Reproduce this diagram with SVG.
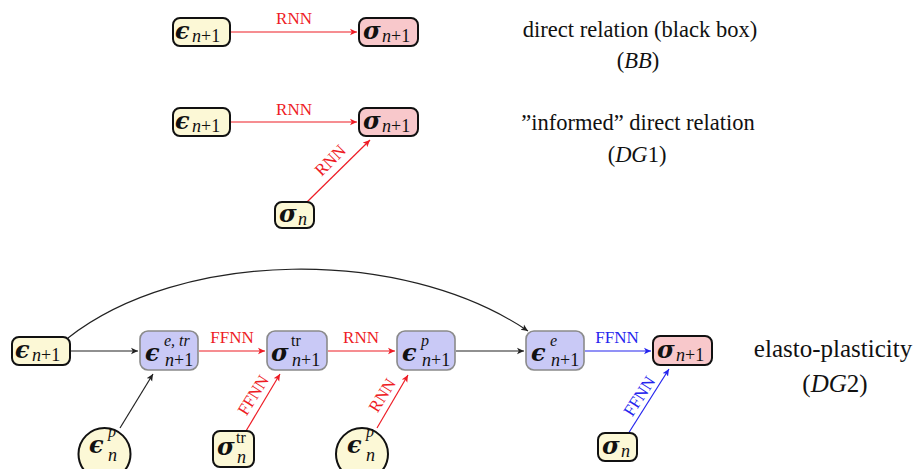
<svg xmlns="http://www.w3.org/2000/svg" width="918" height="469" viewBox="0 0 918 469">
<style>
text{font-family:"Liberation Serif","DejaVu Serif",serif;fill:#111}
.g{font-family:"DejaVu Serif","Liberation Serif",serif;font-weight:bold;font-style:italic;font-size:24px}
.s{font-size:18px}
.t{font-size:16px}
.i{font-style:italic}
.in{fill:#fcf8d6;stroke:#111;stroke-width:2}
.out{fill:#f8c8cb;stroke:#111;stroke-width:2}
.mid{fill:#c9c9f6;stroke:#8a8a8a;stroke-width:1.6}
.lab{font-size:17px}
.r{fill:#ee1c25}
.b{fill:#2525ee}
.desc{font-size:22.5px;text-anchor:middle}
.desc2{font-size:25px;text-anchor:middle}
.ck{stroke:#222;stroke-width:1.2;fill:none}
.cr{stroke:#ee1c25;stroke-width:1.2;fill:none}
.cb{stroke:#2525ee;stroke-width:1.2;fill:none}
</style>
<defs>
<marker id="ak" markerWidth="8" markerHeight="8" refX="7" refY="4" orient="auto" markerUnits="userSpaceOnUse"><path d="M0,0.8 L7,4 L0,7.2 L1.8,4 Z" fill="#222"/></marker>
<marker id="ar" markerWidth="8" markerHeight="8" refX="7" refY="4" orient="auto" markerUnits="userSpaceOnUse"><path d="M0,0.8 L7,4 L0,7.2 L1.8,4 Z" fill="#ee1c25"/></marker>
<marker id="ab" markerWidth="8" markerHeight="8" refX="7" refY="4" orient="auto" markerUnits="userSpaceOnUse"><path d="M0,0.8 L7,4 L0,7.2 L1.8,4 Z" fill="#2525ee"/></marker>
</defs>

<g id="connectors">
<line class="cr" x1="230" y1="32" x2="357" y2="32" marker-end="url(#ar)"/>
<line class="cr" x1="230" y1="122" x2="357" y2="122" marker-end="url(#ar)"/>
<line class="cr" x1="307" y1="202" x2="370" y2="140" marker-end="url(#ar)"/>
<path class="ck" d="M68,338 C180,250 400,245 528,331" marker-end="url(#ak)"/>
<line class="ck" x1="71" y1="351" x2="138" y2="351" marker-end="url(#ak)"/>
<line class="ck" x1="120" y1="428" x2="153" y2="374" marker-end="url(#ak)"/>
<line class="cr" x1="199" y1="351" x2="265" y2="351" marker-end="url(#ar)"/>
<line class="cr" x1="246" y1="431" x2="280" y2="374" marker-end="url(#ar)"/>
<line class="cr" x1="328" y1="351" x2="395" y2="351" marker-end="url(#ar)"/>
<line class="cr" x1="377" y1="428" x2="408" y2="375" marker-end="url(#ar)"/>
<line class="ck" x1="456" y1="351" x2="524" y2="351" marker-end="url(#ak)"/>
<line class="cb" x1="585" y1="351" x2="651" y2="351" marker-end="url(#ab)"/>
<line class="cb" x1="628" y1="434" x2="669" y2="369" marker-end="url(#ab)"/>
<text class="lab r" x="294" y="24" text-anchor="middle">RNN</text>
<text class="lab r" x="294" y="115" text-anchor="middle">RNN</text>
<text class="lab r" x="330" y="160" text-anchor="middle" transform="rotate(-45 330 160)" dy="6">RNN</text>
<text class="lab r" x="232" y="343" text-anchor="middle">FFNN</text>
<text class="lab r" x="253" y="395" text-anchor="middle" transform="rotate(-58 253 395)" dy="6">FFNN</text>
<text class="lab r" x="361" y="343" text-anchor="middle">RNN</text>
<text class="lab r" x="382" y="395" text-anchor="middle" transform="rotate(-58 382 395)" dy="6">RNN</text>
<text class="lab b" x="617" y="343" text-anchor="middle">FFNN</text>
<text class="lab b" x="639" y="396" text-anchor="middle" transform="rotate(-57 639 396)" dy="6">FFNN</text>
</g>

<g id="bb-eps">
<rect class="in" x="173" y="18" width="57" height="28" rx="7"/>
<text x="175" y="39" class="g">ϵ</text>
<text x="192" y="42" class="s"><tspan class="i">n</tspan>+1</text>
</g>
<g id="bb-sig">
<rect class="out" x="359" y="18" width="59" height="28" rx="7"/>
<text x="363" y="39" class="g">σ</text>
<text x="382" y="42" class="s"><tspan class="i">n</tspan>+1</text>
</g>
<g id="dg1-eps">
<rect class="in" x="173" y="108" width="57" height="28" rx="7"/>
<text x="175" y="129" class="g">ϵ</text>
<text x="192" y="132" class="s"><tspan class="i">n</tspan>+1</text>
</g>
<g id="dg1-sig">
<rect class="out" x="359" y="108" width="59" height="28" rx="7"/>
<text x="363" y="129" class="g">σ</text>
<text x="382" y="132" class="s"><tspan class="i">n</tspan>+1</text>
</g>
<g id="dg1-sign">
<rect class="in" x="275" y="202" width="39" height="26" rx="7"/>
<text x="279" y="222" class="g">σ</text>
<text x="298" y="225" class="s i">n</text>
</g>

<g id="dg2-eps">
<rect class="in" x="12" y="337" width="58" height="28" rx="7"/>
<text x="15" y="358" class="g">ϵ</text>
<text x="32" y="361" class="s"><tspan class="i">n</tspan>+1</text>
</g>
<g id="dg2-epsetr">
<rect class="mid" x="140" y="331" width="58" height="39" rx="8"/>
<text x="145" y="361" class="g">ϵ</text>
<text x="164" y="346" class="t i">e, tr</text>
<text x="165" y="366" class="s"><tspan class="i">n</tspan>+1</text>
</g>
<g id="dg2-sigtr">
<rect class="mid" x="267" y="331" width="60" height="39" rx="8"/>
<text x="271" y="361" class="g">σ</text>
<text x="291" y="346" class="t">tr</text>
<text x="292" y="366" class="s"><tspan class="i">n</tspan>+1</text>
</g>
<g id="dg2-epsp">
<rect class="mid" x="397" y="331" width="58" height="39" rx="8"/>
<text x="402" y="361" class="g">ϵ</text>
<text x="421" y="346" class="t i">p</text>
<text x="422" y="366" class="s"><tspan class="i">n</tspan>+1</text>
</g>
<g id="dg2-epse">
<rect class="mid" x="526" y="331" width="58" height="39" rx="8"/>
<text x="531" y="361" class="g">ϵ</text>
<text x="550" y="346" class="t i">e</text>
<text x="551" y="366" class="s"><tspan class="i">n</tspan>+1</text>
</g>
<g id="dg2-sig">
<rect class="out" x="653" y="336" width="59" height="29" rx="7"/>
<text x="657" y="358" class="g">σ</text>
<text x="676" y="361" class="s"><tspan class="i">n</tspan>+1</text>
</g>
<g id="dg2-epspn1">
<circle class="in" cx="104.5" cy="454" r="26"/>
<text x="89" y="453" class="g">ϵ</text>
<text x="108" y="437" class="t i">p</text>
<text x="108" y="461" class="s i">n</text>
</g>
<g id="dg2-sigtrn">
<rect class="in" x="213" y="431" width="41" height="36" rx="7"/>
<text x="217" y="455" class="g">σ</text>
<text x="236" y="443" class="t">tr</text>
<text x="237" y="463" class="s i">n</text>
</g>
<g id="dg2-epspn2">
<circle class="in" cx="362" cy="454" r="26"/>
<text x="347" y="453" class="g">ϵ</text>
<text x="366" y="437" class="t i">p</text>
<text x="366" y="461" class="s i">n</text>
</g>
<g id="dg2-sign">
<rect class="in" x="598" y="433" width="39" height="28" rx="7"/>
<text x="602" y="454" class="g">σ</text>
<text x="621" y="457" class="s i">n</text>
</g>

<text class="desc" x="640" y="37">direct relation (black box)</text>
<text class="desc" x="638" y="68">(<tspan class="i">BB</tspan>)</text>
<text class="desc" x="638" y="130">”informed” direct relation</text>
<text class="desc" x="637" y="162">(<tspan class="i">DG</tspan>1)</text>
<text class="desc2" x="833" y="357">elasto-plasticity</text>
<text class="desc2" x="835" y="392">(<tspan class="i">DG</tspan>2)</text>
</svg>
